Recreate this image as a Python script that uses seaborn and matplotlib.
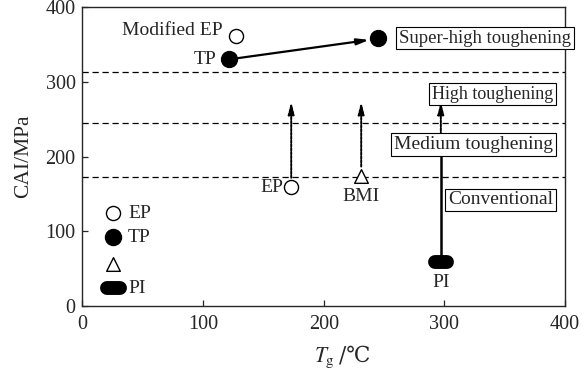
import matplotlib
matplotlib.use("Agg")
import matplotlib.pyplot as plt
import seaborn as sns

# horizontal boundaries between toughening levels (MPa)
levels = [172.5, 245, 313]

# materials: Tg (°C), CAI (MPa)
open_x = [127.5, 173]
open_y = [361, 159]
filled_x = [121.6, 245]
filled_y = [330, 358.5]
bmi_x = [231]
bmi_y = [174]
pi_x = [297]
pi_y = [59]

# legend entries drawn inside the axes
leg_x = 25.7
leg_y = [124, 92, 56, 24]
leg_labels = ["EP", "TP", "", "PI"]

sns.set_style("ticks")
plt.rcParams["font.family"] = ["Liberation Serif", "DejaVu Serif", "Noto Sans CJK SC"]
plt.rcParams["mathtext.fontset"] = "stix"
plt.rcParams["xtick.direction"] = "in"
plt.rcParams["ytick.direction"] = "in"

fig = plt.figure(figsize=(5.85, 3.68), dpi=100)
ax = fig.add_axes([0.141, 0.168, 0.825, 0.813])
fs = 14

for lv in levels:
    ax.axhline(lv, color="black", lw=0.9, ls=(0, (5, 3)), zorder=1)

ms = 11
sns.scatterplot(x=open_x, y=open_y, ax=ax, marker="o", s=ms**2 * 0.85,
                facecolor="white", edgecolor="black", linewidth=1.0, zorder=5)
sns.scatterplot(x=filled_x, y=filled_y, ax=ax, marker="o", s=ms**2 * 1.1,
                color="black", edgecolor="black", zorder=5)
sns.scatterplot(x=bmi_x, y=bmi_y, ax=ax, marker="^", s=ms**2 * 0.8,
                facecolor="white", edgecolor="black", linewidth=1.0, zorder=5)

# PI drawn as a pill (thick line with round caps)
ax.plot([pi_x[0] - 5, pi_x[0] + 5], [pi_y[0]] * 2, color="black", lw=10,
        solid_capstyle="round", zorder=5)

# arrows
head = dict(arrowstyle="-|>,head_length=0.7,head_width=0.18", color="black")
ax.annotate("", xy=(240, 356.5), xytext=(filled_x[0], filled_y[0]),
            arrowprops=dict(head, lw=1.6), zorder=4)
ax.annotate("", xy=(open_x[1], 277), xytext=(open_x[1], 168),
            arrowprops=dict(head, lw=1.4, ls=(0, (1.2, 0.8))), zorder=4)
ax.annotate("", xy=(bmi_x[0], 277), xytext=(bmi_x[0], 183),
            arrowprops=dict(head, lw=1.4, ls=(0, (1.2, 0.8))), zorder=4)
ax.plot([pi_x[0], pi_x[0]], [pi_y[0], 200], color="black", lw=1.8, zorder=4)
ax.annotate("", xy=(pi_x[0], 277), xytext=(pi_x[0], 200),
            arrowprops=dict(head, lw=1.4, ls=(0, (1.2, 0.8))), zorder=4)

# point labels
ax.text(116, 369, "Modified EP", ha="right", va="center", fontsize=fs)
ax.text(111, 330, "TP", ha="right", va="center", fontsize=fs)
ax.text(166, 158, "EP", ha="right", va="center", fontsize=fs)
ax.text(231, 146, "BMI", ha="center", va="center", fontsize=fs)
ax.text(297, 31, "PI", ha="center", va="center", fontsize=fs)

# boxed level labels
box = dict(boxstyle="square,pad=0.15", facecolor="white", edgecolor="black", lw=0.8)
ax.text(405, 358.5, "Super-high toughening", ha="right", va="center", fontsize=13.5, bbox=box, zorder=6)
ax.text(390, 283.5, "High toughening", ha="right", va="center", fontsize=13, bbox=box, zorder=6)
ax.text(390, 216.5, "Medium toughening", ha="right", va="center", fontsize=fs, bbox=box, zorder=6)
ax.text(390, 142, "Conventional", ha="right", va="center", fontsize=fs, bbox=box, zorder=6)

# in-plot legend
ax.scatter([leg_x], [leg_y[0]], marker="o", s=ms**2 * 0.85, facecolor="white", edgecolor="black", lw=1.0, zorder=5)
ax.scatter([leg_x], [leg_y[1]], marker="o", s=ms**2 * 1.1, color="black", zorder=5)
ax.scatter([leg_x], [leg_y[2]], marker="^", s=ms**2 * 0.8, facecolor="white", edgecolor="black", lw=1.0, zorder=5)
ax.plot([leg_x - 5, leg_x + 5], [leg_y[3]] * 2, color="black", lw=10, solid_capstyle="round", zorder=5)
for yy, lab in zip(leg_y, leg_labels):
    if lab:
        ax.text(leg_x + 12, yy, lab, ha="left", va="center", fontsize=fs)

ax.set_xlim(0, 400)
ax.set_ylim(0, 400)
ax.set_xticks([0, 100, 200, 300, 400])
ax.set_yticks([0, 100, 200, 300, 400])
ax.tick_params(labelsize=14.5, length=4, width=0.9)
ax.tick_params(axis="x", pad=6)
ax.tick_params(axis="y", pad=5)
ax.set_ylabel("CAI/MPa", fontsize=15.5, labelpad=9)

# x label: italic T with subscript g, then /℃ in a font that has the glyph
ax.text(0.524, -0.185, r"$T_{\mathrm{g}}$", transform=ax.transAxes, ha="right",
        va="baseline", fontsize=15.5)
ax.text(0.532, -0.185, "/℃", transform=ax.transAxes, ha="left", va="baseline",
        fontsize=15.5, family=["DejaVu Serif", "Noto Sans CJK SC"])

for sp in ax.spines.values():
    sp.set_linewidth(1.0)
    sp.set_visible(True)

fig.savefig("out.png", dpi=100)
